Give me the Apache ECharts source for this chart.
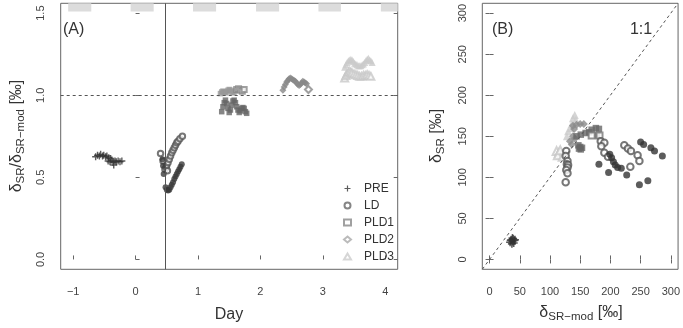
<!DOCTYPE html>
<html>
<head>
<meta charset="utf-8">
<script src="https://cdn.jsdelivr.net/npm/echarts@6/dist/echarts.min.js"></script>
<style>
  html, body { margin: 0; padding: 0; background: #fff; }
  #chart { width: 683px; height: 328px; }
</style>
</head>
<body>
<div id="chart"></div>
<script>
// ---- data ----
// panel A: [day, dSR/dSR-mod]
const preA = [[-0.64,0.625],[-0.61,0.635],[-0.58,0.63],[-0.56,0.64],[-0.53,0.63],[-0.51,0.635],[-0.48,0.625],[-0.46,0.63],[-0.43,0.62],[-0.40,0.615],
  [-0.44,0.60],[-0.41,0.595],[-0.38,0.605],[-0.36,0.59],[-0.33,0.60],[-0.31,0.595],[-0.28,0.60],[-0.25,0.595],[-0.22,0.60],[-0.35,0.575]];
const ldFilledA = [[0.43,0.61],[0.44,0.57],[0.45,0.52],[0.48,0.44],[0.50,0.425],[0.52,0.42],[0.54,0.425],[0.56,0.44],[0.58,0.455],[0.60,0.47],
  [0.62,0.49],[0.64,0.505],[0.66,0.52],[0.68,0.535],[0.70,0.55],[0.72,0.565],[0.74,0.58]];
const ldOpenA = [[0.40,0.645],[0.44,0.60],[0.47,0.55],[0.49,0.56],[0.51,0.54],[0.50,0.575],[0.52,0.59],[0.54,0.61],[0.56,0.63],[0.58,0.65],
  [0.60,0.665],[0.62,0.68],[0.64,0.695],[0.66,0.71],[0.68,0.72],[0.71,0.735],[0.75,0.75]];
const pld1FilledA = [[1.38,0.90],[1.40,0.93],[1.42,0.955],[1.44,0.97],[1.46,0.95],[1.48,0.92],[1.50,0.895],[1.52,0.91],[1.54,0.94],[1.56,0.965],
  [1.58,0.97],[1.60,0.955],[1.62,0.93],[1.64,0.91],[1.66,0.895],[1.68,0.905],[1.70,0.92],[1.72,0.925],[1.74,0.92],[1.76,0.90],[1.78,0.89]];
const pld1LightA = [[1.36,1.01],[1.38,1.02],[1.40,1.025],[1.42,1.02],[1.44,1.015],[1.46,1.02],[1.48,1.03],[1.50,1.035],[1.52,1.03],[1.54,1.02],
  [1.56,1.015],[1.58,1.02],[1.60,1.03]];
const pld1OpenA = [[1.62,1.035],[1.65,1.04],[1.68,1.03],[1.71,1.025],[1.74,1.035]];
const pld2FilledA = [[2.36,1.03],[2.38,1.05],[2.40,1.065],[2.42,1.08],[2.44,1.09],[2.46,1.10],[2.48,1.105],[2.50,1.10],[2.52,1.095],[2.54,1.09],
  [2.56,1.085],[2.58,1.075],[2.60,1.065],[2.62,1.06],[2.64,1.065],[2.66,1.075],[2.68,1.085],[2.70,1.08],[2.72,1.075],[2.74,1.07]];
const pld2OpenA = [[2.77,1.035]];
const pld3FilledA = [[3.35,1.17],[3.37,1.185],[3.39,1.20],[3.41,1.21],[3.43,1.215],[3.45,1.22],[3.47,1.215],[3.49,1.205],[3.51,1.195],[3.53,1.19],
  [3.55,1.185],[3.57,1.18],[3.59,1.18],[3.61,1.18],[3.63,1.185],[3.65,1.19],[3.67,1.20],[3.69,1.21],[3.71,1.22],[3.73,1.225],[3.75,1.215],[3.77,1.21],[3.79,1.20]];
const pld3OpenA = [[3.35,1.105],[3.37,1.12],[3.39,1.13],[3.41,1.14],[3.43,1.145],[3.45,1.14],[3.47,1.135],[3.50,1.13],[3.53,1.125],[3.56,1.12],
  [3.59,1.115],[3.62,1.115],[3.65,1.12],[3.68,1.12],[3.71,1.125],[3.74,1.12],[3.77,1.115]];

// panel B: [dSR-mod, dSR]
const preB = [[34,21],[36,24],[38,22],[39,25],[40,20],[41,23],[37,19],[42,24],[38,26],[35,23]];
const ldFilledB = [[181,116],[197,106],[199,128],[202,124],[205,119],[208,115],[212,112],[218,111],[227,103],[248,91],[262,96],
  [250,143],[255,140],[267,136],[273,132],[286,126]];
const ldOpenB = [[127,132],[126,126],[129,120],[128,116],[130,115],[129,112],[127,109],[129,105],[126,94],[184,144],[190,142],[185,138],
  [190,130],[196,125],[223,139],[229,135],[234,132],[245,127],[248,120],[233,113]];
const pld1FilledB = [[144,150],[151,152],[159,154],[169,158],[176,160],[181,159],[178,151],[165,155],[147,139],[150,137],[153,136],[151,134],[148,135]];
const pld1OpenB = [[169,151],[182,151]];
const pld2FilledB = [[138,163],[144,164],[150,165],[156,165],[140,159],[133,144],[136,140],[138,150],[141,147]];
const pld3FilledB = [[141,176],[138,172],[143,170],[136,165],[130,156],[128,150],[134,160]];
const pld3OpenB = [[111,132],[115,130],[119,128],[113,127],[121,125],[117,133]];

// night periods (grey bands on top of panel A)
const nightBands = [[-1.08,-0.71],[-0.08,0.29],[0.92,1.29],[1.93,2.30],[2.93,3.29],[3.93,4.2]];
const lightsOnDay = 0.47;

// axes
const xRangeA = [-1.2, 4.2];
const yRangeA = [-0.06, 1.56];
const rangeB = [-12, 312];
const xTicksA = [-1, 0, 1, 2, 3, 4];
const yTicksA = [0, 0.5, 1.0, 1.5];
const ticksB = [0, 50, 100, 150, 200, 250, 300];

const FONT = 'Liberation Sans';
const frame = '#666';
const lbl = '#444';
const plus = 'path://M4,0H6V4H10V6H6V10H4V6H0V4H4Z';

function tick(vals) {
  return { show: true, inside: true, length: 4, customValues: vals, lineStyle: { color: frame } };
}
function xAx(grid, range, vals, pos, labels, fmt) {
  return {
    type: 'value', gridIndex: grid, position: pos, min: range[0], max: range[1],
    axisLine: { show: false }, splitLine: { show: false },
    axisTick: tick(vals),
    axisLabel: labels ? { show: true, customValues: vals, margin: 17, fontSize: 11, fontFamily: FONT, color: lbl, formatter: fmt } : { show: false }
  };
}
function yAx(grid, range, vals, pos, labels, fmt) {
  return {
    type: 'value', gridIndex: grid, position: pos, min: range[0], max: range[1],
    axisLine: { show: false }, splitLine: { show: false },
    axisTick: tick(vals),
    axisLabel: labels ? { show: true, customValues: vals, rotate: 90, margin: 14, fontSize: 11, fontFamily: FONT, color: lbl, formatter: fmt } : { show: false }
  };
}

function sc(name, data, xi, yi, symbol, size, color, open) {
  return {
    name: name, type: 'scatter', xAxisIndex: xi, yAxisIndex: yi, data: data,
    symbol: symbol, symbolSize: size, silent: true, animation: false,
    itemStyle: open ? { color: color, borderColor: color, borderWidth: 1 } : { color: color }
  };
}

const sub = { fontSize: 11.5, fontFamily: FONT, verticalAlign: 'bottom', lineHeight: 12, fill: '#333' };
const rich = { m: { fontSize: 16, fontFamily: FONT, lineHeight: 20, fill: '#333' }, s: sub };

const chart = echarts.init(document.getElementById('chart'), null, { renderer: 'canvas' });
chart.setOption({
  backgroundColor: '#fff',
  animation: false,
  grid: [
    { left: 60.7, top: 3.3, right: 285.3, bottom: 58.7, show: true, borderColor: frame, borderWidth: 1, backgroundColor: 'transparent' },
    { left: 482.3, top: 3.3, right: 4, bottom: 58.7, show: true, borderColor: frame, borderWidth: 1, backgroundColor: 'transparent' }
  ],
  xAxis: [
    xAx(0, xRangeA, xTicksA, 'bottom', true, v => String(v).replace('-', '\u2212')),
    xAx(1, rangeB, ticksB, 'bottom', true, v => String(v)),
    xAx(1, rangeB, ticksB, 'top', false)
  ],
  yAxis: [
    yAx(0, yRangeA, yTicksA, 'left', true, v => v.toFixed(1)),
    yAx(0, yRangeA, yTicksA, 'right', false),
    yAx(1, rangeB, ticksB, 'left', true, v => String(v)),
    yAx(1, rangeB, ticksB, 'right', false)
  ],
  legend: {
    orient: 'vertical', left: 343, top: 182.5, padding: 0, itemWidth: 7, itemHeight: 6, itemGap: 5,
    selectedMode: false,
    textStyle: { fontSize: 12, fontFamily: FONT, color: '#333', lineHeight: 12, padding: [0, 0, 0, 8] },
    data: [
      { name: 'PRE', icon: plus, itemStyle: { color: '#333' } },
      { name: 'LD', icon: 'emptyCircle', itemStyle: { color: '#666', borderColor: '#666', borderWidth: 0.8 } },
      { name: 'PLD1', icon: 'emptyRect', itemStyle: { color: '#888', borderColor: '#888', borderWidth: 0.8 } },
      { name: 'PLD2', icon: 'emptyDiamond', itemStyle: { color: '#aaa', borderColor: '#aaa', borderWidth: 0.8 } },
      { name: 'PLD3', icon: 'emptyTriangle', itemStyle: { color: '#ccc', borderColor: '#ccc', borderWidth: 0.8 } }
    ]
  },
  graphic: [
    { type: 'text', x: 63, y: 30, style: { text: '(A)', font: '16px ' + FONT, fill: '#333', textVerticalAlign: 'middle' } },
    { type: 'text', x: 492, y: 30, style: { text: '(B)', font: '16px ' + FONT, fill: '#333', textVerticalAlign: 'middle' } },
    { type: 'text', x: 641, y: 30, style: { text: '1:1', font: '16px ' + FONT, fill: '#333', textAlign: 'center', textVerticalAlign: 'middle' } },
    { type: 'text', x: 229, y: 315, style: { text: 'Day', font: '16px ' + FONT, fill: '#333', textAlign: 'center', textVerticalAlign: 'middle' } },
    { type: 'text', x: 581, y: 313, style: { text: '{m|δ}{s|SR\u2212mod}{m| [‰]}', rich: rich, textAlign: 'center', textVerticalAlign: 'middle' } },
    { type: 'text', x: 17, y: 136, rotation: Math.PI / 2, style: { text: '{m|δ}{s|SR}{m|/δ}{s|SR\u2212mod}{m| [‰]}', rich: rich, textAlign: 'center', textVerticalAlign: 'middle' } },
    { type: 'text', x: 437, y: 136, rotation: Math.PI / 2, style: { text: '{m|δ}{s|SR}{m| [‰]}', rich: rich, textAlign: 'center', textVerticalAlign: 'middle' } }
  ],
  series: [
    Object.assign(sc('PRE', preA, 0, 0, plus, 7, '#333', false), {
      markArea: {
        silent: true, itemStyle: { color: '#dcdcdc' },
        data: nightBands.map(b => [{ xAxis: b[0], yAxis: 1.51 }, { xAxis: b[1], yAxis: yRangeA[1] }])
      },
      markLine: {
        silent: true, symbol: 'none', label: { show: false },
        data: [
          { yAxis: 1.0, lineStyle: { color: '#555', type: [3, 3], width: 1 } },
          { xAxis: lightsOnDay, lineStyle: { color: '#555', type: 'solid', width: 1 } }
        ]
      }
    }),
    sc('LD', ldOpenA, 0, 0, 'emptyCircle', 5.5, '#555', true),
    sc('LDf', ldFilledA, 0, 0, 'circle', 6, '#3a3a3a', false),
    sc('PLD1f', pld1FilledA, 0, 0, 'rect', 5.5, '#666', false),
    sc('PLD1l', pld1LightA, 0, 0, 'rect', 5.5, '#999', false),
    sc('PLD1', pld1OpenA, 0, 0, 'emptyRect', 5, '#888', true),
    sc('PLD2f', pld2FilledA, 0, 0, 'diamond', 7, '#888', false),
    sc('PLD2', pld2OpenA, 0, 0, 'emptyDiamond', 7, '#888', true),
    sc('PLD3f', pld3FilledA, 0, 0, 'triangle', 7, '#cacaca', false),
    sc('PLD3', pld3OpenA, 0, 0, 'emptyTriangle', 7, '#c8c8c8', true),

    Object.assign(sc('PRE', preB, 1, 2, plus, 8, '#333', false), {
      markLine: {
        silent: true, symbol: 'none', label: { show: false },
        lineStyle: { color: '#555', type: [3, 3], width: 1 },
        data: [[{ coord: [rangeB[0], rangeB[0]] }, { coord: [rangeB[1], rangeB[1]] }]]
      }
    }),
    sc('PLD3', pld3OpenB, 1, 2, 'emptyTriangle', 8, '#c8c8c8', true),
    sc('PLD3f', pld3FilledB, 1, 2, 'triangle', 8, '#cacaca', false),
    sc('PLD2f', pld2FilledB, 1, 2, 'diamond', 8, '#8a8a8a', false),
    sc('PLD1f', pld1FilledB, 1, 2, 'rect', 6.5, '#666', false),
    sc('PLD1', pld1OpenB, 1, 2, 'emptyRect', 6, '#777', true),
    sc('LD', ldOpenB, 1, 2, 'emptyCircle', 6.5, '#555', true),
    sc('LDf', ldFilledB, 1, 2, 'circle', 7, '#333', false)
  ]
});
</script>
</body>
</html>
